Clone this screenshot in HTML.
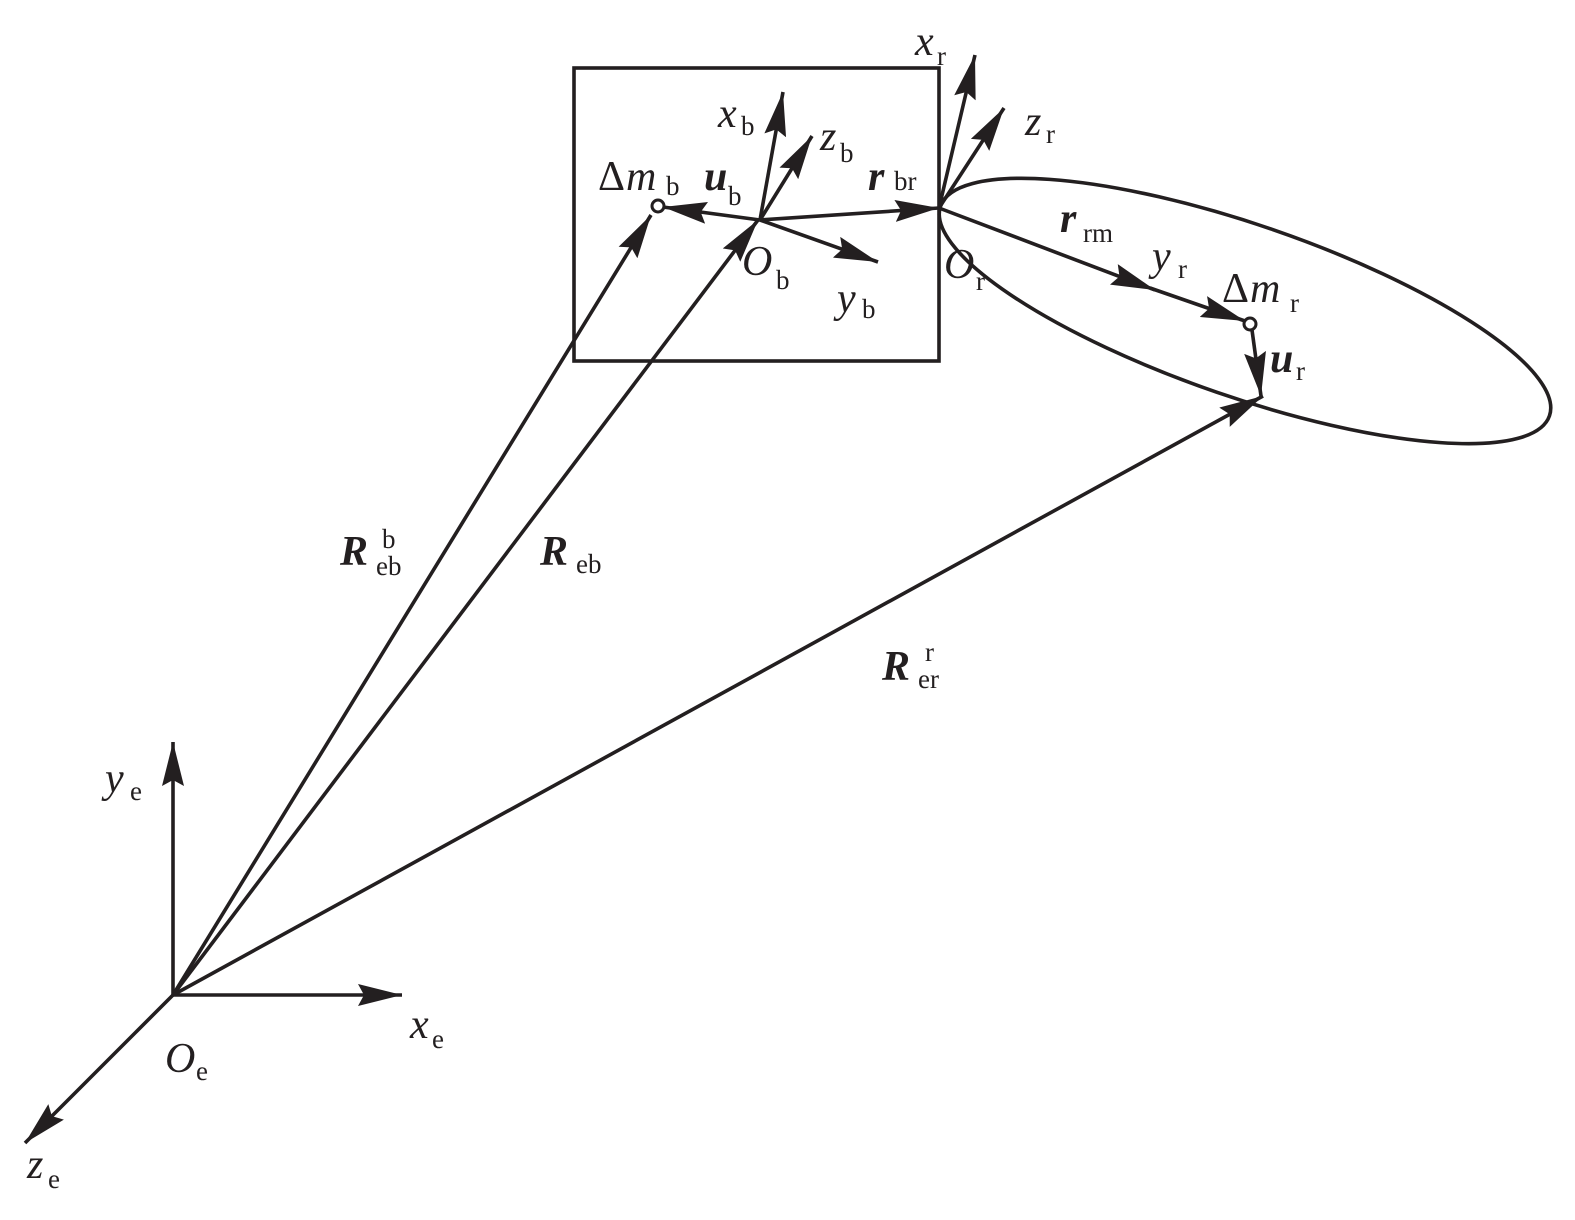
<!DOCTYPE html>
<html><head><meta charset="utf-8"><style>
body{margin:0;background:#fff}
svg{display:block}
text{font-family:"Liberation Serif",serif;fill:#231f20}
.m{font-size:42px;font-style:italic}
.s{font-size:27px}
.b{font-weight:bold;font-style:italic;font-size:42px}
.u{font-size:42px}
</style></head><body>
<svg width="1575" height="1220" viewBox="0 0 1575 1220">
<defs>
<marker id="A" viewBox="0 0 44 22" refX="44" refY="11" markerWidth="44" markerHeight="22" markerUnits="userSpaceOnUse" orient="auto"><path d="M0,0 L44,11 L0,22 L6,11 z" fill="#231f20"/></marker>
</defs>
<g stroke="#231f20" stroke-width="3.6" fill="none">
<rect x="574" y="68" width="365" height="293"/>
<ellipse cx="1245" cy="311" rx="322" ry="86" transform="rotate(19 1245 311)"/>
<line x1="173" y1="995" x2="173" y2="742" marker-end="url(#A)"/>
<line x1="173" y1="995" x2="402" y2="995" marker-end="url(#A)"/>
<line x1="173" y1="995" x2="25" y2="1143" marker-end="url(#A)"/>
<line x1="173" y1="995" x2="651" y2="215" marker-end="url(#A)"/>
<line x1="173" y1="995" x2="758" y2="220" marker-end="url(#A)"/>
<line x1="173" y1="995" x2="1263" y2="396" marker-end="url(#A)"/>
<line x1="760" y1="220" x2="783" y2="92" marker-end="url(#A)"/>
<line x1="760" y1="220" x2="812" y2="136" marker-end="url(#A)"/>
<line x1="760" y1="220" x2="878" y2="262" marker-end="url(#A)"/>
<line x1="760" y1="220" x2="663" y2="207" marker-end="url(#A)"/>
<line x1="760" y1="220" x2="939" y2="208" marker-end="url(#A)"/>
<line x1="939" y1="208" x2="975" y2="55" marker-end="url(#A)"/>
<line x1="939" y1="208" x2="1004" y2="108" marker-end="url(#A)"/>
<line x1="939" y1="208" x2="1155" y2="290" marker-end="url(#A)"/>
<line x1="1150" y1="288" x2="1245" y2="321" marker-end="url(#A)"/>
<line x1="1252" y1="330" x2="1261" y2="396" marker-end="url(#A)"/>
<circle cx="658" cy="206" r="6" fill="#fff" stroke-width="3"/>
<circle cx="1250" cy="324" r="6" fill="#fff" stroke-width="3"/>
</g>
<text x="105" y="792" class="m">y</text><text x="130" y="800" class="s">e</text>
<text x="410" y="1038" class="m">x</text><text x="432" y="1048" class="s">e</text>
<text x="27" y="1178" class="m">z</text><text x="48" y="1188" class="s">e</text>
<text x="165" y="1072" class="m">O</text><text x="196" y="1080" class="s">e</text>
<text x="340" y="565" class="b">R</text><text x="376" y="575" class="s">eb</text><text x="382" y="548" class="s">b</text>
<text x="540" y="565" class="b">R</text><text x="576" y="573" class="s">eb</text>
<text x="882" y="680" class="b">R</text><text x="918" y="688" class="s">er</text><text x="925" y="661" class="s">r</text>
<text x="598" y="190" class="u">Δ</text><text x="626" y="190" class="m">m</text><text x="666" y="195" class="s">b</text>
<text x="704" y="190" class="b">u</text><text x="728" y="205" class="s">b</text>
<text x="718" y="127" class="m">x</text><text x="741" y="135" class="s">b</text>
<text x="820" y="150" class="m">z</text><text x="840" y="162" class="s">b</text>
<text x="868" y="190" class="b">r</text><text x="894" y="190" class="s">br</text>
<text x="742" y="275" class="m">O</text><text x="776" y="289" class="s">b</text>
<text x="837" y="312" class="m">y</text><text x="862" y="318" class="s">b</text>
<text x="915" y="55" class="m">x</text><text x="937" y="65" class="s">r</text>
<text x="1025" y="135" class="m">z</text><text x="1046" y="143" class="s">r</text>
<text x="944" y="278" class="m">O</text><text x="976" y="290" class="s">r</text>
<text x="1060" y="232" class="b">r</text><text x="1083" y="242" class="s">rm</text>
<text x="1152" y="270" class="m">y</text><text x="1178" y="278" class="s">r</text>
<text x="1222" y="302" class="u">Δ</text><text x="1250" y="302" class="m">m</text><text x="1290" y="312" class="s">r</text>
<text x="1270" y="372" class="b">u</text><text x="1296" y="380" class="s">r</text>
</svg>
</body></html>
